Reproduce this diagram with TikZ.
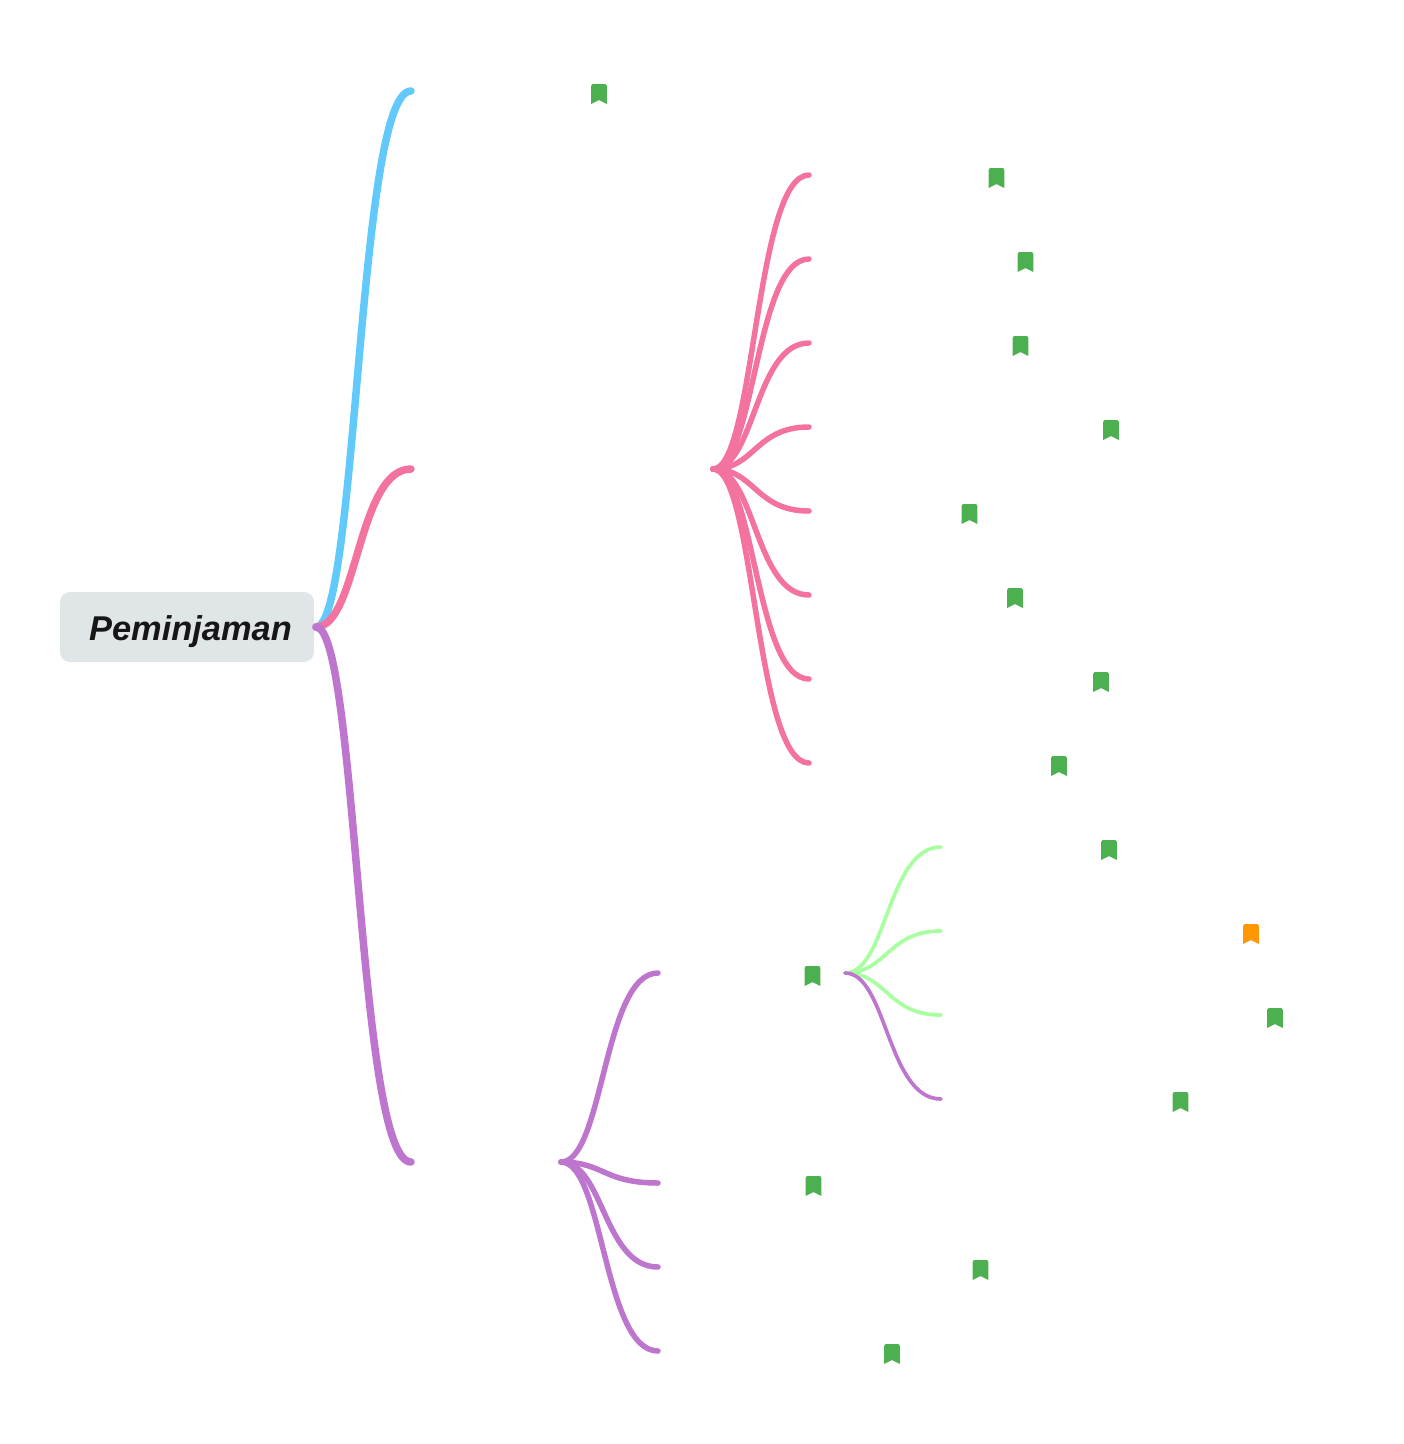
\documentclass[tikz,border=0pt]{standalone}
\usepackage{fontspec}
\setmainfont{Liberation Sans}
\usetikzlibrary{calc}
\definecolor{cblue}{HTML}{62C9FB}
\definecolor{cpink}{HTML}{F4729F}
\definecolor{cpurple}{HTML}{BD75CE}
\definecolor{cgreen}{HTML}{A8FFA0}
\definecolor{cmark}{HTML}{4CAF50}
\definecolor{cwarn}{HTML}{FF9800}
\definecolor{cbox}{HTML}{E0E5E8}
\definecolor{ctext}{HTML}{161616}
\tikzset{
  rootbox/.style={fill=cbox,rounded corners=10pt,minimum width=254pt,inner sep=0pt,text height=48pt,text depth=22pt,text=ctext,font=\bfseries\itshape\fontsize{34.4}{40}\selectfont},
  linkA/.style={line width=7.5pt,line cap=round},
  linkB/.style={line width=5.5pt,line cap=round},
  linkC/.style={line width=3.7pt,line cap=round}
}
% link: style, from, to; S curve
\newcommand{\linkto}[3]{%
  \draw[#1] (#2)
    .. controls ($(#2)!.5!(#2-|#3)+(-6,0)$) and ($(#3)!.5!(#3-|#2)+(-6,0)$) .. (#3);}
% bookmark: name, centre x, top y, colour
\newcommand{\bmark}[4]{%
  \coordinate (#1) at (#2,#3);
  \fill[#4] ($(#1)+(-7.8,20)$) [rounded corners=2pt] -- ($(#1)+(-7.8,0)$) -- ($(#1)+(7.8,0)$) [sharp corners] -- ($(#1)+(7.8,20)$)
    -- ($(#1)+(0,16)$) -- cycle;}
\begin{document}
\begin{tikzpicture}[x=1pt,y=-1pt]
\useasboundingbox (0,0) rectangle (1404,1444);
\node[rootbox] (root) at (187,627) {\hspace{7pt}Peminjaman};
% hubs and ends
\coordinate (rootout) at (316,627);
\coordinate (a1) at (411,91);
\coordinate (a2) at (411,469);
\coordinate (a3) at (411,1162);
\coordinate (phub) at (713,469);
\foreach \n/\y in {1/175,2/259,3/343,4/427,5/511,6/595,7/679,8/763}{\coordinate (p\n) at (809,\y);}
\coordinate (uhub) at (561,1162);
\foreach \n/\y in {1/973,2/1183,3/1267,4/1351}{\coordinate (u\n) at (658,\y);}
\coordinate (ghub) at (845,973);
\foreach \n/\y in {1/847,2/931,3/1015,4/1099}{\coordinate (g\n) at (941,\y);}
% connectors
\linkto{linkA,cblue}{rootout}{a1}
\linkto{linkA,cpink}{rootout}{a2}
\linkto{linkA,cpurple}{rootout}{a3}
\foreach \n in {1,...,8}{\linkto{linkB,cpink}{phub}{p\n}}
\foreach \n in {1,...,4}{\linkto{linkB,cpurple}{uhub}{u\n}}
\foreach \n in {1,2,3}{\linkto{linkC,cgreen}{ghub}{g\n}}
\linkto{linkC,cpurple}{ghub}{g4}
% bookmarks
\bmark{m1}{599}{84}{cmark}
\bmark{m2}{996.5}{168}{cmark}
\bmark{m3}{1025.5}{252}{cmark}
\bmark{m4}{1020.5}{336}{cmark}
\bmark{m5}{1111}{420}{cmark}
\bmark{m6}{969.5}{504}{cmark}
\bmark{m7}{1015}{588}{cmark}
\bmark{m8}{1101}{672}{cmark}
\bmark{m9}{1059}{756}{cmark}
\bmark{m10}{1109}{840}{cmark}
\bmark{m11}{1251}{924}{cwarn}
\bmark{m12}{1275}{1008}{cmark}
\bmark{m13}{1180.5}{1092}{cmark}
\bmark{m14}{812.5}{966}{cmark}
\bmark{m15}{813.5}{1176}{cmark}
\bmark{m16}{980.5}{1260}{cmark}
\bmark{m17}{892}{1344}{cmark}
\end{tikzpicture}
\end{document}
